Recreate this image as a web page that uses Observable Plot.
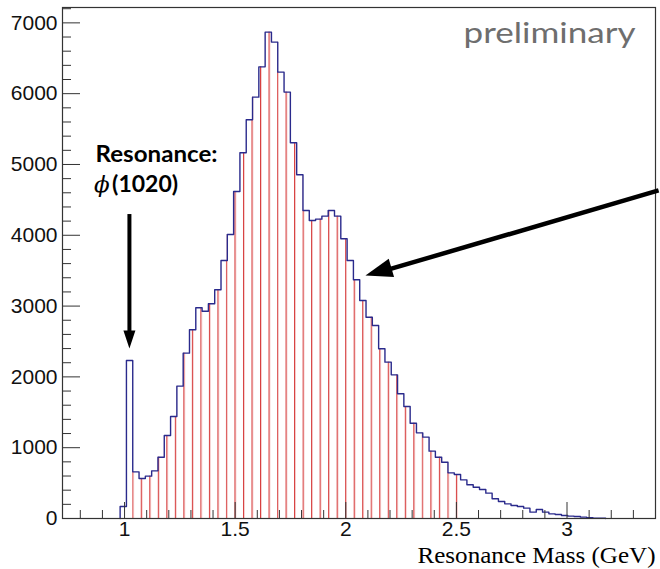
<!DOCTYPE html>
<html>
<head>
<meta charset="utf-8">
<script src="https://cdn.jsdelivr.net/npm/d3@7"></script>
<script src="https://cdn.jsdelivr.net/npm/@observablehq/plot@0.6"></script>
<style>
  body { margin: 0; background: #fff; }
  #chart svg { display: block; }
</style>
</head>
<body>
<div id="chart"></div>
<script>
// ---------------- data ----------------
const binStart = 0.98;      // GeV, left edge of first filled bin
const binWidth = 0.0285;    // GeV
const counts = [170, 2232, 659, 565, 598, 673, 866, 1172, 1441, 1869,
  2335, 2665, 2976, 2928, 3032, 3230, 3644, 4011, 4619, 5165,
  5631, 5951, 6379, 6869, 6728, 6304, 6022, 5306, 4854, 4350,
  4209, 4228, 4270, 4350, 4270, 3950, 3644, 3371, 3079, 2843,
  2726, 2397, 2208, 2029, 1761, 1582, 1346, 1210, 1149, 951,
  866, 795, 645, 621, 546, 476, 442, 410, 358, 278,
  240, 207, 184, 170, 146, 90, 127, 90, 66, 56,
  42, 33, 28, 19, 10, 5, 3];
const hatchRange = [1.035, 2.52];   // hatched (red) part of the histogram
const hatchSpacing = 0.0385;        // GeV between hatch lines

const xDomain = [0.7195, 3.4];
const yDomain = [0, 7217];
const xTickLabels = [1, 1.5, 2, 2.5, 3];
const xMinorTicks = [0.8, 0.9, 1.1, 1.2, 1.3, 1.4, 1.6, 1.7, 1.8, 1.9, 2.1, 2.2, 2.3, 2.4, 2.6, 2.7, 2.8, 2.9, 3.1, 3.2, 3.3];
const yTickLabels = [0, 1000, 2000, 3000, 4000, 5000, 6000, 7000];
const yMinorTicks = [200, 400, 600, 800, 1200, 1400, 1600, 1800, 2200, 2400, 2600, 2800, 3200, 3400, 3600, 3800,
  4200, 4400, 4600, 4800, 5200, 5400, 5600, 5800, 6200, 6400, 6600, 6800, 7200];

// annotations
const phiArrow = {x: 1.022, yTop: 4300, yShaftEnd: 2528, yTip: 2401};
const mainArrow = {x1: 3.414, y1: 4633, xShaftEnd: 2.148, yShaftEnd: 3475, xTip: 2.089, yTip: 3432};
const labelResonance = {x: 0.8687, y: 5032, text: "Resonance:"};
const labelPhi = {x: 0.862, y: 4608, text: "\u03D5"};
const labelMass = {x: 0.9437, y: 4608, text: "(1020)"};
const prelimText = "preliminary";
const xAxisTitle = "Resonance Mass (GeV)";

// ---------------- derived tables ----------------
const bins = counts.map((c, j) => ({x1: binStart + j * binWidth, x2: binStart + (j + 1) * binWidth, count: c}));
const hatchBins = bins.filter(b => (b.x1 + b.x2) / 2 > hatchRange[0] && (b.x1 + b.x2) / 2 < hatchRange[1]);
const outline = [{x: bins[0].x1, y: 0}, ...bins.map(b => ({x: b.x1, y: b.count})),
  {x: bins[bins.length - 1].x2, y: bins[bins.length - 1].count}, {x: bins[bins.length - 1].x2, y: 0}];

// ---------------- layout ----------------
const W = 660, H = 569, mL = 62, mR = 5, mT = 7, mB = 51;
const px = d3.scaleLinear(xDomain, [mL, W - mR]);
const py = d3.scaleLinear(yDomain, [H - mB, mT]);

function makeHead(ux, uy, L, Wd) {
  const n = Math.hypot(ux, uy); ux /= n; uy /= n;
  const nx = -uy, ny = ux;
  const bx = -L * ux, by = -L * uy;
  return {draw(ctx) {
    ctx.moveTo(0, 0);
    ctx.lineTo(bx + nx * Wd / 2, by + ny * Wd / 2);
    ctx.lineTo(bx - nx * Wd / 2, by - ny * Wd / 2);
    ctx.closePath();
  }};
}
const headDown = makeHead(0, 1, 18, 12);
const headDiag = makeHead(px(mainArrow.xTip) - px(mainArrow.x1), py(mainArrow.yTip) - py(mainArrow.y1), 27, 19);

const axisColor = "#333";
const blue = "#2a2a8c";
const red = "#d63b3b";
const hatchKey = "#d63b3c"; // placeholder fill, replaced by the hatch pattern

const plot = Plot.plot({
  width: W, height: H,
  marginLeft: mL, marginRight: mR, marginTop: mT, marginBottom: mB,
  style: {fontFamily: "'Liberation Sans', Arial, sans-serif", fontSize: "21px", color: "#111", background: "#fff", overflow: "visible"},
  x: {domain: xDomain, axis: null},
  y: {domain: yDomain, axis: null},
  marks: [
    // hatched red region
    Plot.rectY(hatchBins, {x1: "x1", x2: "x2", y: "count", fill: hatchKey}),
    // histogram outline
    Plot.line(outline, {x: "x", y: "y", curve: "step-after", stroke: blue, strokeWidth: 1.4}),
    Plot.frame({stroke: axisColor, strokeWidth: 1.2}),
    // axes labels
    Plot.axisX({ticks: xTickLabels, tickSize: 0, tickPadding: 3, fontSize: 21, label: null, tickFormat: d => String(d)}),
    Plot.axisY({ticks: yTickLabels, tickSize: 0, tickPadding: 5, fontSize: 21, label: null, tickFormat: d => String(d)}),
    // inward ticks
    Plot.ruleY(yTickLabels, {y: d => d, x1: xDomain[0], x2: xDomain[0], insetRight: -18, stroke: axisColor}),
    Plot.ruleY(yMinorTicks, {y: d => d, x1: xDomain[0], x2: xDomain[0], insetRight: -9, stroke: axisColor}),
    Plot.ruleX(xTickLabels, {x: d => d, y1: 0, y2: 0, insetTop: -16, stroke: axisColor}),
    Plot.ruleX(xMinorTicks, {x: d => d, y1: 0, y2: 0, insetTop: -8, stroke: axisColor}),
    // arrows
    Plot.link([phiArrow], {x1: "x", y1: "yTop", x2: "x", y2: "yShaftEnd", stroke: "#000", strokeWidth: 4, clip: false}),
    Plot.dot([phiArrow], {x: "x", y: "yTip", symbol: headDown, fill: "#000", stroke: "none", clip: false}),
    Plot.link([mainArrow], {x1: "x1", y1: "y1", x2: "xShaftEnd", y2: "yShaftEnd", stroke: "#000", strokeWidth: 4.5, clip: false}),
    Plot.dot([mainArrow], {x: "xTip", y: "yTip", symbol: headDiag, fill: "#000", stroke: "none", clip: false}),
    // texts
    Plot.text([labelResonance], {x: "x", y: "y", text: "text", textAnchor: "start", lineAnchor: "bottom",
      fontFamily: "Lato, 'Open Sans', sans-serif", fontWeight: "bold", fontSize: 23, fill: "#000"}),
    Plot.text([labelPhi], {x: "x", y: "y", text: "text", textAnchor: "start", lineAnchor: "bottom",
      fontFamily: "'DejaVu Serif', serif", fontStyle: "italic", fontSize: 23, fill: "#000"}),
    Plot.text([labelMass], {x: "x", y: "y", text: "text", textAnchor: "start", lineAnchor: "bottom",
      fontFamily: "Lato, 'Open Sans', sans-serif", fontWeight: "bold", fontSize: 23, fill: "#000"}),
    Plot.text([prelimText], {frameAnchor: "top-right", text: d => d, textAnchor: "end", lineAnchor: "bottom",
      dx: -20, dy: 35, fontFamily: "Lato, 'Open Sans', sans-serif", fontSize: 29, fill: "#6e6e6e"}),
    Plot.text([xAxisTitle], {frameAnchor: "bottom-right", text: d => d, textAnchor: "end", lineAnchor: "bottom",
      dy: 44, fontFamily: "'Liberation Serif', serif", fontSize: 23, fill: "#000"})
  ]
});

document.getElementById("chart").appendChild(plot);

// hatch pattern (vertical lines) aligned to the data scale
const ns = "http://www.w3.org/2000/svg";
const defs = document.createElementNS(ns, "defs");
const pat = document.createElementNS(ns, "pattern");
const x0 = px(hatchBins[0].x1);
const pw = px(hatchBins[0].x1 + hatchSpacing) - x0;
pat.setAttribute("id", "hatchfill");
pat.setAttribute("patternUnits", "userSpaceOnUse");
pat.setAttribute("x", x0);
pat.setAttribute("y", 0);
pat.setAttribute("width", pw);
pat.setAttribute("height", 20);
const line = document.createElementNS(ns, "rect");
line.setAttribute("x", 0); line.setAttribute("y", 0);
line.setAttribute("width", 1.2); line.setAttribute("height", 20);
line.setAttribute("fill", red);
pat.appendChild(line);
defs.appendChild(pat);
plot.insertBefore(defs, plot.firstChild);
plot.querySelectorAll("*").forEach(el => {
  const f = el.getAttribute("fill");
  if (f && f.toLowerCase() === hatchKey) el.setAttribute("fill", "url(#hatchfill)");
  if (el.style && el.style.fill && el.style.fill.replace(/\s/g, "") === "rgb(214,59,60)") el.style.fill = "url(#hatchfill)";
});

// stretch a few texts to the reference widths
function fit(str, len) {
  plot.querySelectorAll("text").forEach(t => {
    if (t.textContent === str) { t.setAttribute("textLength", len); t.setAttribute("lengthAdjust", "spacingAndGlyphs"); }
  });
}
fit(prelimText, 172);
fit(labelResonance.text, 122);
fit(xAxisTitle, 238);
</script>
</body>
</html>
